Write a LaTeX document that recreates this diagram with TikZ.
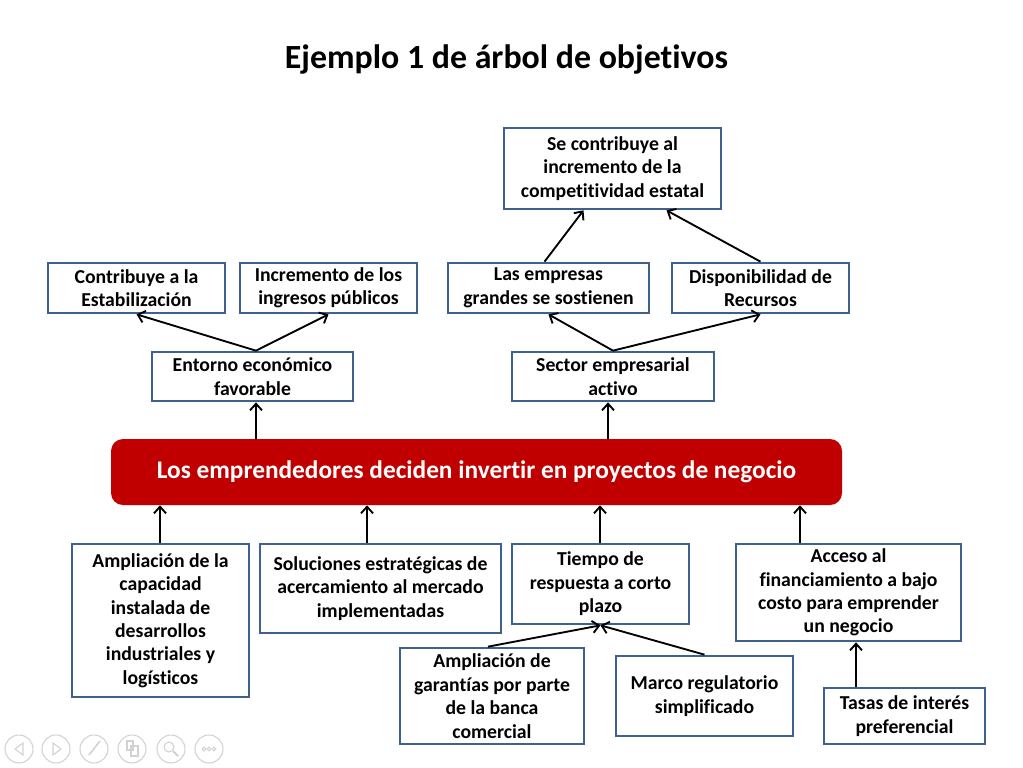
\documentclass[tikz,border=0pt]{standalone}
\usepackage{fontspec}
\setmainfont{Carlito}[Ligatures=NoCommon]
\usetikzlibrary{arrows.meta,calc}
\definecolor{boxblue}{HTML}{3E6190}
\definecolor{redbox}{HTML}{C00000}
\definecolor{icongray}{HTML}{D2D2D2}
\begin{document}
\begin{tikzpicture}[x=0.75pt,y=-0.75pt,
  box/.style={draw=boxblue,line width=2pt,fill=white,inner sep=0pt,align=center,
    font=\bfseries\fontsize{14.8}{17.6}\selectfont},
  arr/.style={line width=1.4pt,-{Straight Barb[length=5pt,width=9pt,line width=1.4pt]}},
  icon/.style={draw=icongray,line width=0.8pt}]
\useasboundingbox (0,0) rectangle (1023,767);
\node[font=\bfseries\fontsize{25.4}{30}\selectfont] (title) at (506.5,59) {Ejemplo 1 de árbol de objetivos};

\node[box,minimum width=162.75pt,minimum height=60.75pt] (top) at (612.5,168.5) {Se contribuye al\\incremento de la\\competitividad estatal};
\node[box,minimum width=132.75pt,minimum height=37.5pt] (estab) at (136.5,288) {Contribuye a la\\Estabilización};
\node[box,minimum width=132.75pt,minimum height=37.5pt] (incr) at (328.5,288) {Incremento de los\\ingresos públicos};
\node[box,minimum width=150.75pt,minimum height=37.5pt] (las) at (548.5,288) {Las empresas\\grandes se sostienen};
\node[box,minimum width=132.75pt,minimum height=37.5pt] (disp) at (760.5,288) {Disponibilidad de\\Recursos};
\node[box,minimum width=150.75pt,minimum height=36.75pt] (ent) at (252.5,376.5) {Entorno económico\\favorable};
\node[box,minimum width=151.5pt,minimum height=36.75pt] (sector) at (613,376.5) {Sector empresarial\\activo};

\node[fill=redbox,rounded corners=9pt,minimum width=548.25pt,minimum height=49.5pt,inner sep=0pt,
  text=white,font=\bfseries\fontsize{19}{23}\selectfont] (red) at (476.5,472) {Los emprendedores deciden invertir en proyectos de negocio};

\node[box,minimum width=132.75pt,minimum height=114.75pt] (amp) at (160.5,620.5) {Ampliación de la\\capacidad\\instalada de\\desarrollos\\industriales y\\logísticos};
\node[box,minimum width=180.75pt,minimum height=66.75pt] (sol) at (380.5,588.5) {Soluciones estratégicas de\\acercamiento al mercado\\implementadas};
\node[box,minimum width=132.75pt,minimum height=60pt] (tiempo) at (600.5,584) {Tiempo de\\respuesta a corto\\plazo};
\node[box,minimum width=168.75pt,minimum height=72.75pt] (acceso) at (848.5,592.5) {Acceso al\\financiamiento a bajo\\costo para emprender\\un negocio};
\node[box,minimum width=138pt,minimum height=72pt] (gar) at (492,696) {Ampliación de\\garantías por parte\\de la banca\\comercial};
\node[box,minimum width=132.75pt,minimum height=60pt] (marco) at (704.5,696) {Marco regulatorio\\simplificado};
\node[box,minimum width=120.75pt,minimum height=42pt] (tasas) at (904.5,716) {Tasas de interés\\preferencial};

% upper connectors
\coordinate (entdn) at ($(ent.south)+(3.5,0)$);
\coordinate (secdn) at ($(sector.south)+(-5,0)$);
\draw[arr] ($(las.north)+(-4,0)$) -- ($(top.south)+(-29,0)$);
\draw[arr] (disp.north) -- ($(top.south)+(54,0)$);
\draw[arr] ($(ent.north)+(3.5,0)$) -- (estab.south);
\draw[arr] ($(ent.north)+(3.5,0)$) -- (incr.south);
\draw[arr] (sector.north) -- (las.south);
\draw[arr] (sector.north) -- (disp.south);
\draw[arr] (red.north -| entdn) -- (entdn);
\draw[arr] (red.north -| secdn) -- (secdn);

% lower connectors
\coordinate (ampup) at ($(amp.north)+(-0.5,0)$);
\coordinate (solup) at ($(sol.north)+(-13.5,0)$);
\coordinate (tieup) at ($(tiempo.north)+(-0.5,0)$);
\coordinate (accup) at ($(acceso.north)+(-48.5,0)$);
\coordinate (tasup) at ($(tasas.north)+(-48.5,0)$);
\draw[arr] (ampup) -- (ampup |- red.south);
\draw[arr] (solup) -- (solup |- red.south);
\draw[arr] (tieup) -- (tieup |- red.south);
\draw[arr] (accup) -- (accup |- red.south);
\draw[arr] ($(gar.north)+(-4,0)$) -- (tiempo.south);
\draw[arr] (marco.north) -- (tiempo.south);
\draw[arr] (tasup) -- (tasup |- acceso.south);

% slideshow controls
\foreach \cx in {19,56,94,132,171,209}{\draw[icon] (\cx,749) circle (14);}
\draw[icon] (23,743) -- (15,749) -- (23,755) -- cycle;
\draw[icon] (53,743) -- (61,749) -- (53,755) -- cycle;
\draw[icon,line width=1.2pt] (100,741) -- (89,755);
\draw[icon] (127,741) rectangle (133,750);
\draw[icon] (131,746) rectangle (138,756);
\draw[icon] (169,747) circle (5);
\draw[icon,line width=1.4pt] (173,751) -- (178,756);
\foreach \dx in {-5,0,5}{\draw[icon] (209+\dx,749) circle (1.8);}
\end{tikzpicture}
\end{document}
